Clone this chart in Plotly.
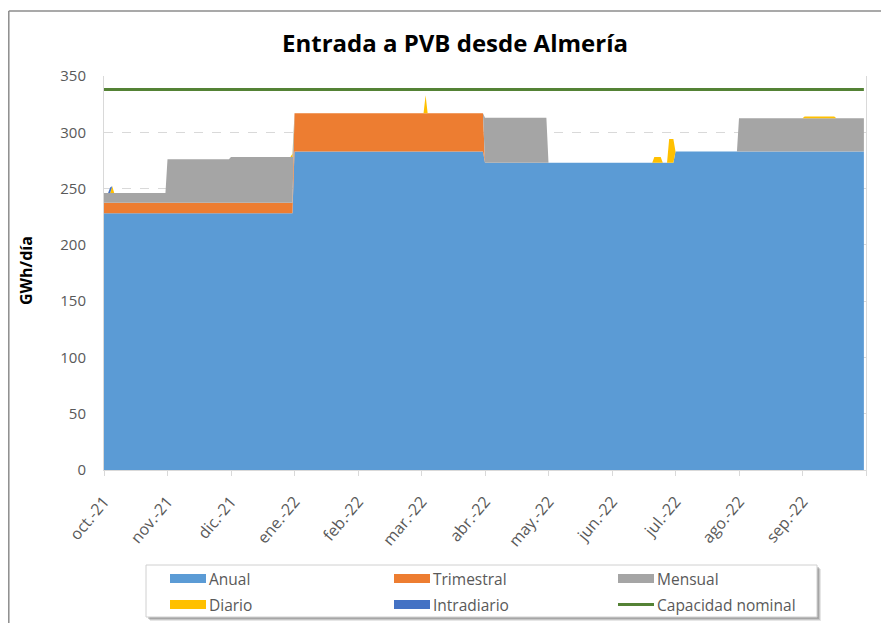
import calendar
import pandas as pd
import plotly.graph_objects as go

# ---------------- data ----------------
meses = ["oct.-21", "nov.-21", "dic.-21", "ene.-22", "feb.-22", "mar.-22",
         "abr.-22", "may.-22", "jun.-22", "jul.-22", "ago.-22", "sep.-22"]
anual = [228, 228, 228, 283, 283, 283, 273, 273, 273, 283, 283, 283]
trimestral = [9.5, 9.5, 9.5, 34, 34, 34, 0, 0, 0, 0, 0, 0]
mensual = [8.5, 38.5, 40.5, 0, 0, 0, 40, 0, 0, 0, 29.5, 29.5]
# (start, end, GWh/día)
diario_periodos = [
    ("2021-10-05", "2021-10-05", 6),
    ("2021-12-31", "2021-12-31", 3),
    ("2022-03-03", "2022-03-03", 16),
    ("2022-06-21", "2022-06-24", 5),
    ("2022-06-28", "2022-06-30", 21),
    ("2022-09-02", "2022-09-16", 1.5),
]
intradiario_periodos = [
    ("2021-10-04", "2021-10-04", 5),
]
capacidad_nominal = 338
fechas = pd.date_range("2021-10-01", "2022-09-30", freq="D")

# ------------- build daily series -------------
def month_idx(d):
    return (d.year - 2021) * 12 + d.month - 10

def periodo_val(d, periodos):
    v = 0
    for a, b, val in periodos:
        if pd.Timestamp(a) <= d <= pd.Timestamp(b):
            v = val
    return v

x = []
s_anual, s_trim, s_mens, s_diario, s_intra, s_cap = [], [], [], [], [], []
for d in fechas:
    m = month_idx(d)
    nd = calendar.monthrange(d.year, d.month)[1]
    x.append(m + (d.day - 1) / nd)
    s_anual.append(anual[m])
    s_trim.append(trimestral[m])
    s_mens.append(mensual[m])
    s_diario.append(periodo_val(d, diario_periodos))
    s_intra.append(periodo_val(d, intradiario_periodos))
    s_cap.append(capacidad_nominal)

C_ANUAL = "#5B9BD5"
C_TRIM = "#ED7D31"
C_MENS = "#A5A5A5"
C_DIARIO = "#FFC000"
C_INTRA = "#4472C4"
C_CAP = "#548235"

FONT = "Open Sans"
TXT = "#595959"

fig = go.Figure()
for name, ys, col in [("Anual", s_anual, C_ANUAL), ("Trimestral", s_trim, C_TRIM),
                      ("Mensual", s_mens, C_MENS), ("Diario", s_diario, C_DIARIO),
                      ("Intradiario", s_intra, C_INTRA)]:
    fig.add_trace(go.Scatter(x=x, y=ys, name=name, mode="lines", stackgroup="one",
                             line=dict(width=0, color=col), fillcolor=col,
                             showlegend=False))
fig.add_trace(go.Scatter(x=x, y=s_cap, name="Capacidad nominal", mode="lines",
                         line=dict(width=3, color=C_CAP), showlegend=False))

# ------------- layout -------------
OFF = 8                       # page body margin
FW, FH = 889 - OFF, 623 - OFF
SX0, SX1, SY0, SY1 = 104, 866, 76, 470   # plot area in screen px
L, T = SX0 - OFF, SY0 - OFF
R, B = FW - (SX1 - OFF), FH - (SY1 - OFF)
PW, PH = SX1 - SX0, SY1 - SY0

def px(xs):
    return (xs - SX0) / PW

def py(ys):
    return (SY1 - ys) / PH

shapes = []
annotations = []
# chart frame (partially cropped)
shapes.append(dict(type="line", xref="paper", yref="paper", x0=px(8.8), x1=px(8.8),
                   y0=py(11), y1=py(640), line=dict(color="#8C8C8C", width=1.5)))
shapes.append(dict(type="line", xref="paper", yref="paper", x0=px(8.8), x1=px(900),
                   y0=py(11), y1=py(11), line=dict(color="#8C8C8C", width=1.5)))

# legend box with shadow
lx0, lx1, ly0, ly1 = 146, 817, 565, 617
for off, op in [(4, 0.15), (3, 0.22), (2, 0.3)]:
    shapes.append(dict(type="rect", xref="paper", yref="paper",
                       x0=px(lx0 + off), x1=px(lx1 + off), y0=py(ly0 + off), y1=py(ly1 + off),
                       line=dict(width=0), fillcolor="rgba(90,90,90,%s)" % op))
shapes.append(dict(type="rect", xref="paper", yref="paper",
                   x0=px(lx0), x1=px(lx1), y0=py(ly0), y1=py(ly1),
                   line=dict(color="#D0D0D0", width=1), fillcolor="white"))

items = [("Anual", C_ANUAL, 170, 578.5, "box"), ("Trimestral", C_TRIM, 394, 578.5, "box"),
         ("Mensual", C_MENS, 618, 578.5, "box"), ("Diario", C_DIARIO, 170, 604.5, "box"),
         ("Intradiario", C_INTRA, 394, 604.5, "box"),
         ("Capacidad nominal", C_CAP, 618, 604.5, "line")]
for name, col, sx, sy, kind in items:
    if kind == "box":
        shapes.append(dict(type="rect", xref="paper", yref="paper",
                           x0=px(sx), x1=px(sx + 36), y0=py(sy - 4.5), y1=py(sy + 4.5),
                           line=dict(width=0), fillcolor=col))
    else:
        shapes.append(dict(type="line", xref="paper", yref="paper",
                           x0=px(sx), x1=px(sx + 36), y0=py(sy), y1=py(sy),
                           line=dict(width=3, color=col)))
    annotations.append(dict(text=name, xref="paper", yref="paper", x=px(sx + 37), y=py(sy),
                            xanchor="left", yanchor="middle", showarrow=False,
                            font=dict(family=FONT, size=15.5, color=TXT)))

# y-axis title
annotations.append(dict(text="<b>GWh/día</b>", xref="paper", yref="paper",
                        x=px(26), y=py(271), xanchor="center", yanchor="middle",
                        textangle=-90, showarrow=False,
                        font=dict(family=FONT, size=16, color="#000000")))

fig.update_layout(
    width=FW, height=FH, autosize=False,
    margin=dict(l=L, r=R, t=T, b=B),
    paper_bgcolor="white", plot_bgcolor="white",
    title=dict(text="<b>Entrada a PVB desde Almería</b>", x=(455 - OFF) / FW, xanchor="center",
               y=1 - (44 - OFF) / FH, yanchor="middle",
               font=dict(family=FONT, size=24, color="#000000")),
    shapes=shapes, annotations=annotations, showlegend=False,
    xaxis=dict(range=[0, 12], tickvals=list(range(13)), ticktext=meses + [""],
               tickangle=-50, ticks="outside", ticklen=5, tickcolor="#D9D9D9",
               ticklabelstandoff=10,
               showgrid=False, showline=True, linecolor="#D9D9D9", linewidth=1,
               zeroline=False, tickfont=dict(family=FONT, size=16, color=TXT)),
    yaxis=dict(range=[0, 350], dtick=50, showgrid=True, gridcolor="#D9D9D9",
               griddash="dash", gridwidth=1, showline=True, mirror=True,
               linecolor="#D9D9D9", linewidth=1, zeroline=False, ticks="",
               ticklabelstandoff=14,
               tickfont=dict(family=FONT, size=15, color=TXT)),
)

fig.write_html("out.html")
